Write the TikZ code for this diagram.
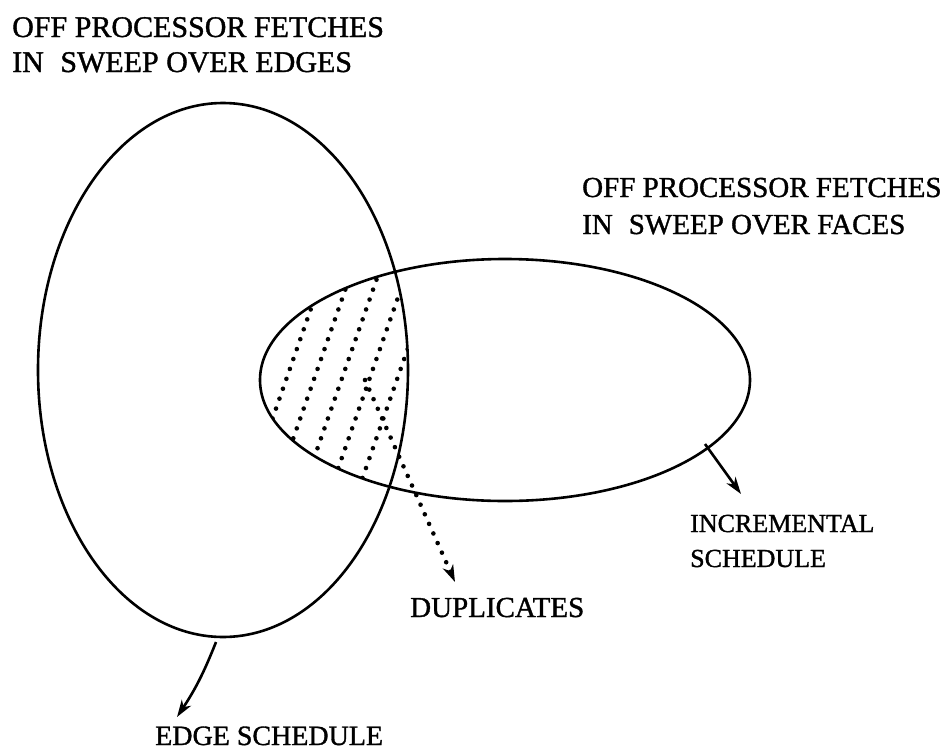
\documentclass[tikz,border=0pt]{standalone}
\usepackage{fontspec}
\setmainfont{Liberation Serif}
\newfontfamily\scanfont{Liberation Serif}[FakeBold=1.2]
\usetikzlibrary{arrows.meta,shapes.geometric}
\begin{document}
\begin{tikzpicture}[x=1pt,y=-1pt,
  outline/.style={draw, ellipse, line width=2.6pt, inner sep=0pt, outer sep=0pt},
  hatch/.style={line width=4.6pt, line cap=round, dash pattern=on 0pt off 10.5pt},
  pointer/.style={line width=2.6pt, -{Stealth[length=17pt,width=11pt,inset=5pt]}},
  dotpointer/.style={hatch, -{Stealth[length=17pt,width=11pt,inset=5pt]}},
  caption/.style={anchor=base west, inner sep=0pt, font=\scanfont\fontsize{30}{30}\selectfont}
]
\useasboundingbox (0,0) rectangle (946,750);

% the two fetch sets
\node[outline, minimum width=370pt, minimum height=534pt] (edges) at (223,370) {};
\node[outline, minimum width=490pt, minimum height=242pt] (faces) at (505,380) {};

% hatching of the overlap
\begin{scope}
  \clip (223,370) ellipse [x radius=185, y radius=267];
  \clip (505,380) ellipse [x radius=245, y radius=121];
  \foreach \i in {0,...,4}
    \draw[hatch] ({279+27.7*\i+52.5},250) -- ({279+27.7*\i-52.5},550);
\end{scope}

% labels
\node[caption] (t1) at (12,37) {OFF PROCESSOR FETCHES};
\node[caption] (t2) at (12,72) {IN\hspace{0.3em} SWEEP OVER EDGES};
\node[caption, font=\scanfont\fontsize{29}{29}\selectfont] (t3) at (582,197) {OFF PROCESSOR FETCHES};
\node[caption, font=\scanfont\fontsize{29}{29}\selectfont] (t4) at (582,234) {IN\hspace{0.3em} SWEEP OVER FACES};
\node[caption, font=\scanfont\fontsize{26}{26}\selectfont] (inc) at (690,532) {INCREMENTAL};
\node[caption, font=\scanfont\fontsize{26}{26}\selectfont] (sch) at (690,567) {SCHEDULE};
\node[caption, font=\scanfont\fontsize{29}{29}\selectfont] (dup) at (410,617) {DUPLICATES};
\node[caption, font=\scanfont\fontsize{28}{28}\selectfont] (edg) at (155,745) {EDGE SCHEDULE};

% pointers
\coordinate (dupstart) at (365,380);
\coordinate (duptip) at (455,582);
\draw[dotpointer] (dupstart) -- (duptip);

\coordinate (incstart) at (705,444);
\coordinate (inctip) at (741,494);
\draw[pointer] (incstart) -- (inctip);

\coordinate (edgstart) at (216,642);
\coordinate (edgtip) at (177,717);
\draw[pointer] (edgstart) to[bend left=6] (edgtip);
\end{tikzpicture}
\end{document}
